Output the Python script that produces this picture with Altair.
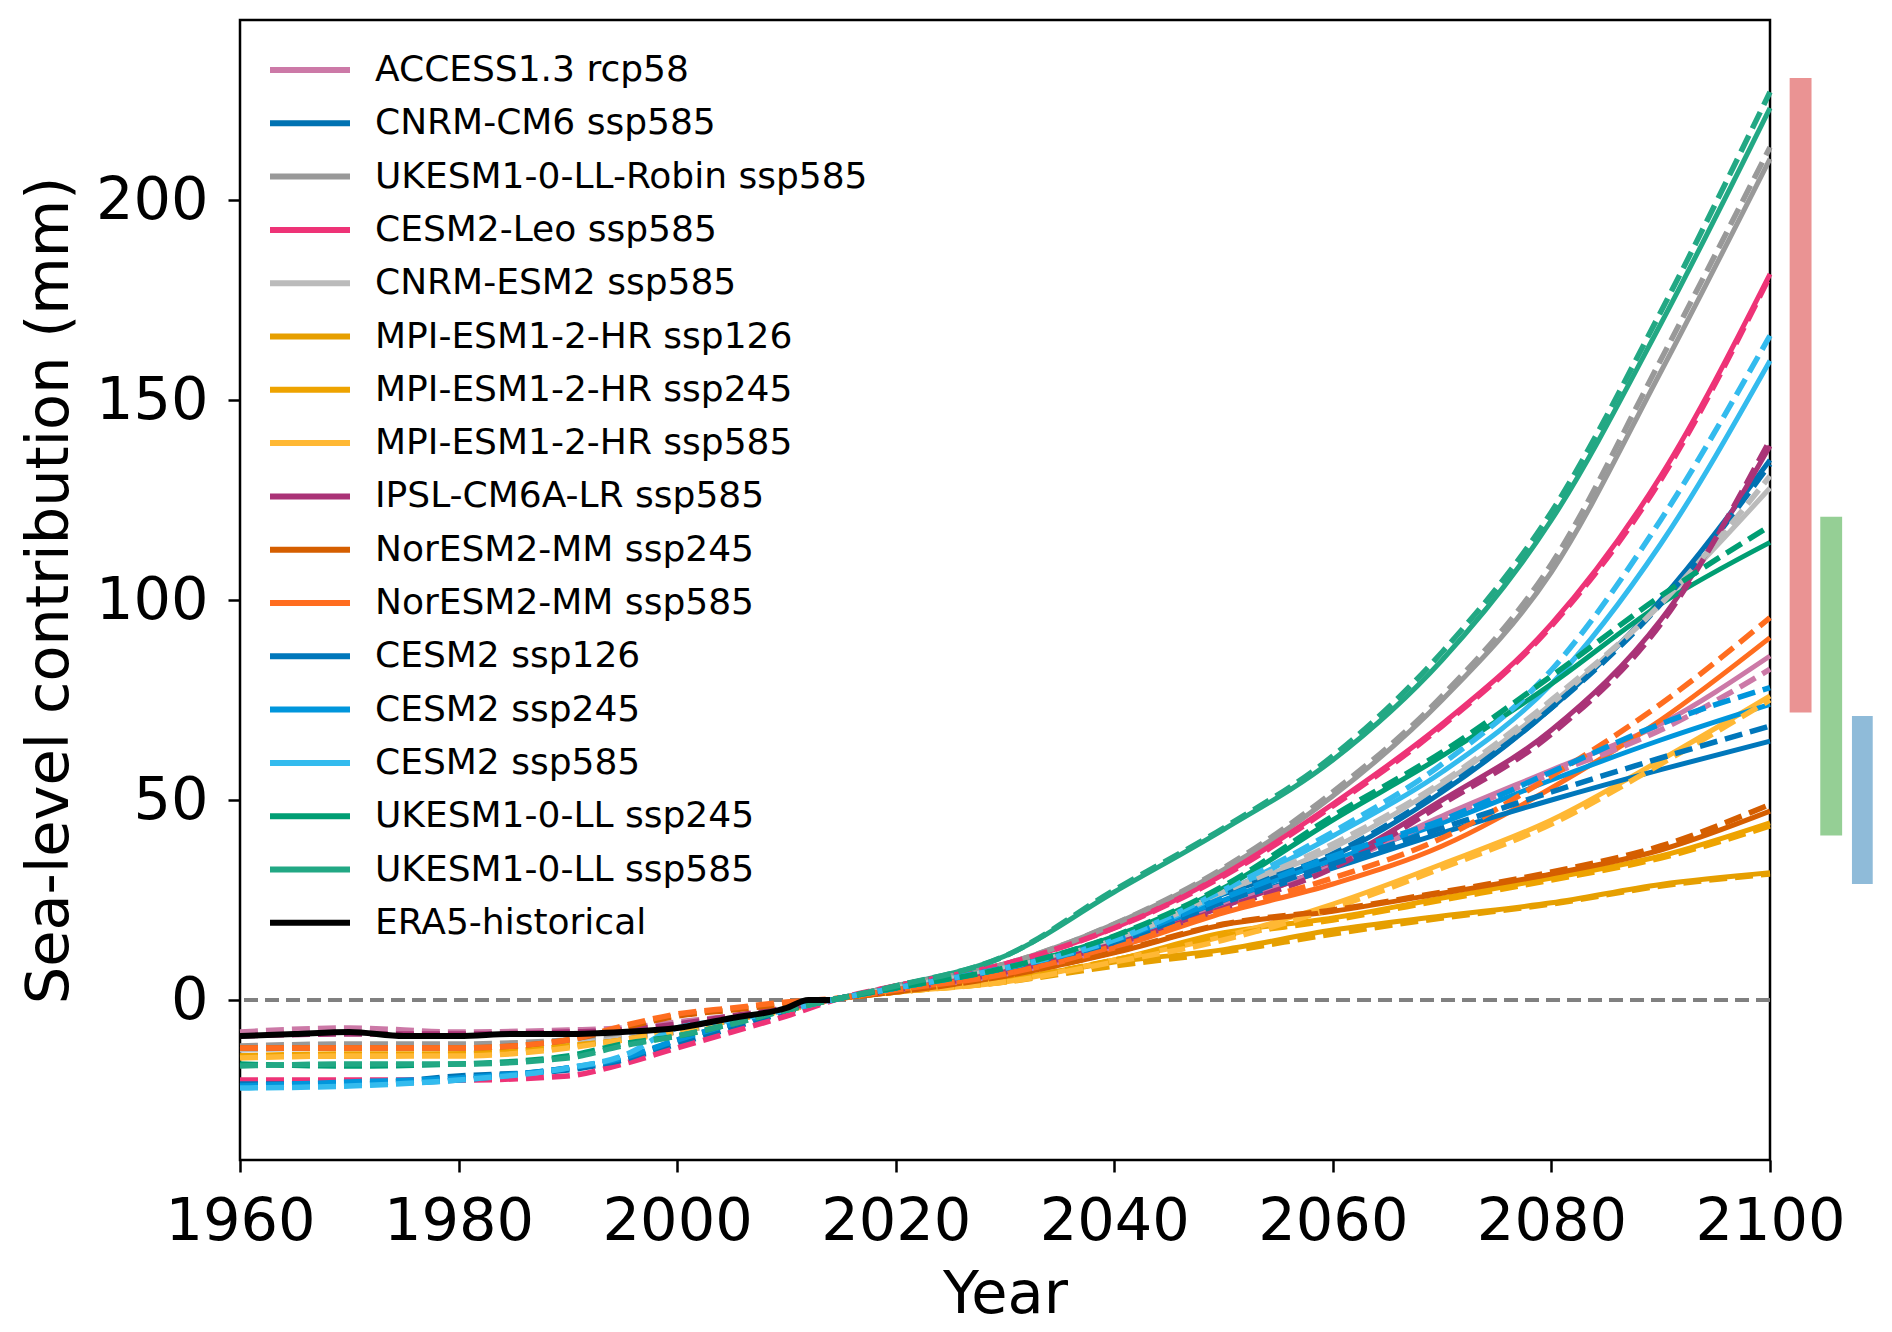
import altair as alt
import pandas as pd

# ---------------- data ----------------
YEARS_HIST = [1960, 1970, 1980, 1990, 1995, 2000, 2005, 2010]
YEARS_FUT = [2015, 2020, 2030, 2040, 2050, 2060, 2070, 2080, 2090, 2100]

MODELS = [
    "ACCESS1.3 rcp58", "CNRM-CM6 ssp585", "UKESM1-0-LL-Robin ssp585",
    "CESM2-Leo ssp585", "CNRM-ESM2 ssp585", "MPI-ESM1-2-HR ssp126",
    "MPI-ESM1-2-HR ssp245", "MPI-ESM1-2-HR ssp585", "IPSL-CM6A-LR ssp585",
    "NorESM2-MM ssp245", "NorESM2-MM ssp585", "CESM2 ssp126", "CESM2 ssp245",
    "CESM2 ssp585", "UKESM1-0-LL ssp245", "UKESM1-0-LL ssp585", "ERA5-historical",
]
COLORS = [
    "#cc79a7", "#0072b2", "#999999", "#ee3377", "#bbbbbb", "#e69f00",
    "#eea300", "#ffb834", "#aa3377", "#d55e00", "#ff6d1f", "#0077bb",
    "#0096dc", "#33bbee", "#009e73", "#22a884", "#000000",
]

# solid lines (future, 2015-2100)
access_sol = [0.5, 2.5, 6.5, 13.5, 23.5, 33.5, 46, 57.5, 69, 86]
cnrmcm6_sol = [0.5, 3, 8, 15, 26.5, 36, 52, 73, 100, 135]
robin_sol = [0.5, 3.5, 9, 19, 32.6, 51, 75, 107, 157, 210.3]
leo_sol = [0.5, 3.5, 9, 18, 31.4, 49, 69, 94, 131, 181.5]
cnrmesm2_sol = [0.5, 3, 8, 15, 27, 38, 54, 74, 99, 128]
mpi126_sol = [0.5, 2, 5, 9.5, 12.6, 17.5, 21, 24.3, 28.9, 31.8]
mpi245_sol = [0.5, 2, 5, 10, 16.8, 20.5, 25.5, 30.5, 36, 44.3]
mpi585_sol = [0.5, 2, 4.5, 10, 15.9, 24, 34, 45, 60, 76]
ipsl_sol = [0.5, 2.5, 7, 14, 23.4, 34, 50, 67.5, 95, 138.5]
nor245_sol = [0.5, 2, 6, 11.8, 18.8, 22.2, 26.7, 31.5, 37.5, 47.2]
nor585_sol = [0.5, 2.5, 6.5, 13, 21.8, 29, 38.5, 53, 70, 90.6]
cesm126_sol = [0.5, 3, 8, 14.5, 24.3, 33, 41.8, 50, 57.6, 64.7]
cesm245_sol = [0.5, 3, 8, 15, 25, 35, 44.3, 55, 65, 73.9]
cesm585_sol = [0.5, 3, 8, 14.5, 26.8, 41, 57, 79, 114, 159.8]
uk245_sol = [0.5, 3, 8, 15.9, 28, 45, 61, 79, 99, 114.4]
uk585_sol = [0.5, 3.5, 11, 27, 42.6, 60, 85, 120, 169, 223]

# dashed lines (1960-2100: historical years then future years)
access_dash = [-8, -7, -8, -7.5, -7, -5.5, -4, -2,
               0.5, 2.5, 6.5, 13.5, 23.5, 33.5, 45.5, 56.5, 67.5, 82.7]
cnrmcm6_dash = [-21, -21, -19, -17.5, -15, -11, -7, -3,
                0.5, 3, 8, 15, 26.5, 36.5, 52.5, 73, 99, 134]
robin_dash = [-11.5, -11, -11, -10, -9, -8, -5, -2,
              0.5, 3.5, 9, 19, 33, 52, 76, 109, 160, 213.2]
leo_dash = [-20, -20, -20, -19, -16, -12, -8, -4,
            0.5, 3.5, 9, 18, 31, 48.5, 68.5, 93.5, 130, 181]
cnrmesm2_dash = [-12.5, -12, -12, -11, -9.5, -7.5, -5, -2,
                 0.5, 3, 8, 15, 27, 39, 54.5, 75, 99, 131]
mpi126_dash = [-14, -14, -13.5, -11.5, -10, -7.5, -5, -2.5,
               0.5, 2, 4.5, 8.5, 12, 16.5, 20.5, 24, 28.5, 31.5]
mpi245_dash = [-14, -13.5, -13.5, -11.5, -10, -7.5, -5, -2.5,
               0.5, 2, 5, 10, 16, 20, 25, 30, 35.5, 43.5]
mpi585_dash = [-14.5, -14, -14, -12, -10, -8, -5, -2.5,
               0.5, 2, 4.5, 9.5, 15, 23, 33, 44, 59, 75]
ipsl_dash = [-9, -8.5, -8.5, -8, -7.5, -6, -4, -2,
             0.5, 2.5, 7, 14, 23, 33, 49, 66.5, 94, 140]
nor245_dash = [-12, -12, -12, -10, -7, -4, -2.5, -1,
               0.5, 2, 6, 12, 19, 22.5, 27, 32, 38.5, 48.9]
nor585_dash = [-12, -12, -12, -10, -6.5, -3.5, -2, -0.5,
               0.5, 2.5, 6.5, 13.5, 22.5, 30.5, 40.5, 56, 74, 95.6]
cesm126_dash = [-21, -21, -20, -17, -15, -10, -6, -2.5,
                0.5, 3, 8, 14.5, 24.5, 34, 43, 52, 60.5, 68.5]
cesm245_dash = [-21.5, -20.5, -19.5, -17, -14.5, -10, -6, -2.5,
                0.5, 3, 8, 15, 25.5, 36, 45, 57, 69, 78.1]
cesm585_dash = [-22, -21.5, -20, -17, -14, -7, -5, -2.5,
                0.5, 3, 8, 15, 27.5, 42, 59, 82.5, 120, 166.1]
uk245_dash = [-16, -16.5, -16, -14, -11, -9, -6, -2.5,
              0.5, 3, 8, 16, 28.5, 46, 62, 81, 101, 118.5]
uk585_dash = [-16.5, -16, -16, -14.5, -11.5, -9, -6, -2.5,
              0.5, 3.5, 11, 27.5, 43, 61, 87, 122, 172, 227]

era5_years = [1960, 1965, 1970, 1975, 1980, 1985, 1990, 1995, 2000, 2005, 2010, 2012, 2014]
era5_vals = [-9, -8.5, -8, -9, -9, -8.5, -8.5, -8, -7, -4.5, -2, 0, 0]

# likely-range bars at the right of the axes
bar_low = [71.9, 41.1, 29.0]
bar_high = [230.5, 120.8, 71.0]
bar_colors = ["#d62728", "#2ca02c", "#1f77b4"]

SOLID = [access_sol, cnrmcm6_sol, robin_sol, leo_sol, cnrmesm2_sol, mpi126_sol,
         mpi245_sol, mpi585_sol, ipsl_sol, nor245_sol, nor585_sol, cesm126_sol,
         cesm245_sol, cesm585_sol, uk245_sol, uk585_sol]
DASHED = [access_dash, cnrmcm6_dash, robin_dash, leo_dash, cnrmesm2_dash, mpi126_dash,
          mpi245_dash, mpi585_dash, ipsl_dash, nor245_dash, nor585_dash, cesm126_dash,
          cesm245_dash, cesm585_dash, uk245_dash, uk585_dash]

# ---------------- tables ----------------
rows_s, rows_d = [], []
for i, m in enumerate(MODELS[:16]):
    for y, v in zip(YEARS_FUT, SOLID[i]):
        rows_s.append({"model": m, "order": i, "year": y, "value": v})
    for y, v in zip(YEARS_HIST + YEARS_FUT, DASHED[i]):
        rows_d.append({"model": m, "order": i, "year": y, "value": v})
df_s = pd.DataFrame(rows_s)
df_d = pd.DataFrame(rows_d)
df_e = pd.DataFrame({"model": "ERA5-historical", "year": era5_years, "value": era5_vals})

# layout constants (bar slots to the right of the axes, in year units)
BAR_X0 = [2101.8, 2104.6, 2107.5]
BAR_X1 = [2103.8, 2106.6, 2109.4]
df_b = pd.DataFrame({"x0": BAR_X0, "x1": BAR_X1, "low": bar_low, "high": bar_high,
                     "c": bar_colors})

FONT = "DejaVu Sans"
xscale = alt.Scale(domain=[1960, 2100], nice=False, zero=False)
yscale = alt.Scale(domain=[-40, 245], nice=False, zero=False)
cscale = alt.Scale(domain=MODELS, range=COLORS)

xaxis = alt.Axis(values=[1960, 1980, 2000, 2020, 2040, 2060, 2080, 2100], format="d",
                 title="Year", labelFlush=False, titleY=134, titleBaseline="middle")
yaxis = alt.Axis(values=[0, 50, 100, 150, 200], title="Sea-level contribution (mm)",
                 titleX=-191, titleY=570, titleBaseline="middle", titleAngle=-90)

X = alt.X("year:Q", scale=xscale, axis=xaxis)
Y = alt.Y("value:Q", scale=yscale, axis=yaxis)

legend = alt.Legend(
    title=None, orient="none", legendX=52, legendY=32,
    symbolType="M-4,0H4", symbolSize=400, symbolStrokeWidth=6,
    labelFontSize=36, labelFont=FONT, labelColor="black", labelOffset=47,
    rowPadding=17.3, padding=0, labelLimit=1000,
)

zero = alt.Chart(df_e).mark_rule(color="#808080", strokeWidth=3, strokeDash=[14, 7]).encode(
    y=alt.datum(0, scale=yscale))

solid = alt.Chart(df_s).mark_line(strokeWidth=5, interpolate="monotone").encode(
    x=X, y=Y,
    color=alt.Color("model:N", scale=cscale, legend=legend),
    detail="model:N", order="year:Q",
)
dashed = alt.Chart(df_d).mark_line(strokeWidth=5.5, strokeDash=[18, 8],
                                   interpolate="monotone").encode(
    x=X, y=Y,
    color=alt.Color("model:N", scale=cscale, legend=None),
    detail="model:N", order="year:Q",
)
era5 = alt.Chart(df_e).mark_line(strokeWidth=6, interpolate="monotone").encode(
    x=X, y=Y, color=alt.Color("model:N", scale=cscale, legend=None), order="year:Q")

bars = alt.Chart(df_b).mark_rect(opacity=0.5, clip=False).encode(
    x=alt.X("x0:Q", scale=xscale), x2="x1:Q",
    y=alt.Y("low:Q", scale=yscale), y2="high:Q",
    fill=alt.Fill("c:N", scale=None),
)

chart = alt.layer(zero, solid, dashed, era5, bars).properties(
    width=1530, height=1140,
    autosize=alt.AutoSizeParams(type="none"),
    padding={"left": 232, "top": 12, "right": 114, "bottom": 172},
).configure_view(stroke="black", strokeWidth=2.5).configure_axis(
    grid=False, domain=False, tickColor="black", tickWidth=2.5, tickSize=12,
    labelFontSize=59, labelFont=FONT, labelColor="black", labelPadding=20,
    titleFontSize=59, titleFont=FONT, titleFontWeight="normal", titleColor="black",
)

chart.save("out.html", embed_options={"renderer": "svg", "actions": False})
